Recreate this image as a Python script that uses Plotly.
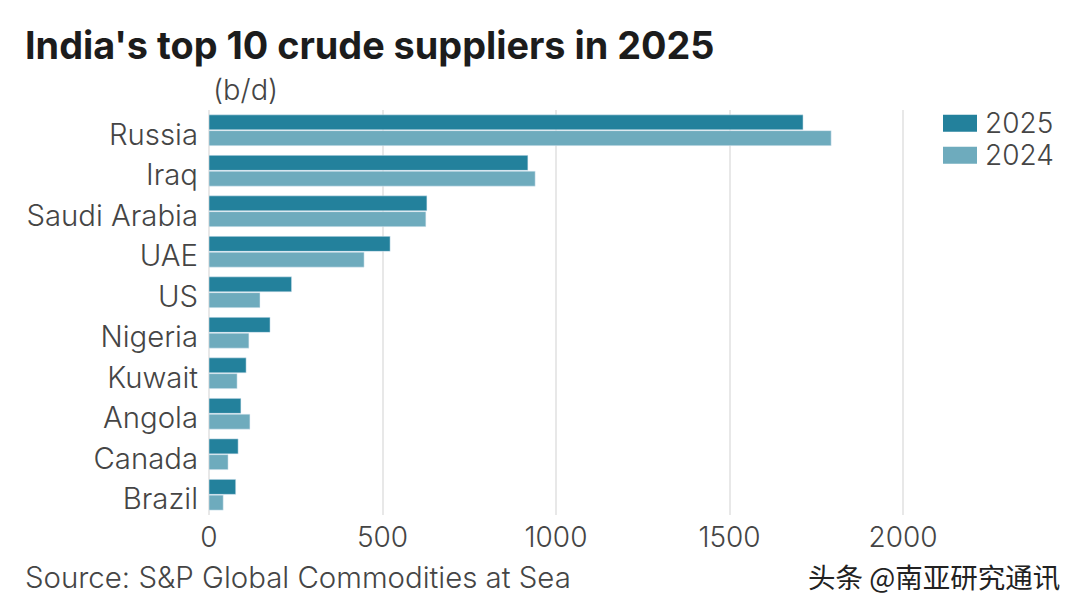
import plotly.graph_objects as go

categories = ["Russia", "Iraq", "Saudi Arabia", "UAE", "US", "Nigeria", "Kuwait", "Angola", "Canada", "Brazil"]
values_2025 = [1712, 919, 628, 522, 238, 176, 107, 92, 84, 77]
values_2024 = [1793, 940, 625, 447, 147, 115, 81, 118, 55, 41]
x_ticks = [0, 500, 1000, 1500, 2000]
series_names = ["2025", "2024"]
series_colors = ["#23819c", "#6eabbd"]

W, H = 1080, 608
L, R, T, B = 209, 940, 110.3, 514.7
TEXT = "#454545"
FONT = "Inter"


def px(x):
    return (x - L) / (R - L)


def py(y):
    return (B - y) / (B - T)


fig = go.Figure()
fig.add_bar(name=series_names[0], y=categories, x=values_2025, orientation="h", marker_color=series_colors[0])
fig.add_bar(name=series_names[1], y=categories, x=values_2024, orientation="h", marker_color=series_colors[1])

annotations = [
    dict(text="India's top 10 crude suppliers in 2025", x=px(23), y=py(45), xanchor="left",
         font=dict(size=37.8, family=FONT, color="#1c1c1c", weight=700)),
    dict(text="(b/d)", x=px(211), y=py(90), xanchor="left",
         font=dict(size=29, family=FONT, color=TEXT, weight=300)),
    dict(text="Source: S&P Global Commodities at Sea", x=px(23), y=py(577), xanchor="left",
         font=dict(size=29.4, family=FONT, color=TEXT, weight=300)),
    dict(text="头条 @南亚研究通讯", x=px(1062), y=py(576), xanchor="right",
         font=dict(size=27.5, family="Noto Sans CJK SC", color="#222222")),
]
shapes = []
for name, color, top in zip(series_names, series_colors, [115, 147]):
    shapes.append(dict(type="rect", xref="paper", yref="paper", x0=px(943), x1=px(977), y0=py(top), y1=py(top + 17),
                       fillcolor=color, line_width=0))
    annotations.append(dict(text=name, x=px(983), y=py(top + 8), xanchor="left",
                            font=dict(size=28, family=FONT, color=TEXT, weight=300)))
for a in annotations:
    a.update(xref="paper", yref="paper", showarrow=False, yanchor="middle")

fig.update_layout(
    width=W, height=H, barmode="group", bargap=0.22, bargroupgap=0.05, showlegend=False,
    margin=dict(l=L, r=W - R, t=T, b=H - B, pad=0, autoexpand=False),
    paper_bgcolor="white", plot_bgcolor="white",
    font=dict(family=FONT, color=TEXT, size=28),
    xaxis=dict(range=[0, (R - L) / 0.347], tickvals=x_ticks, ticktext=[str(v) for v in x_ticks],
               showgrid=True, gridcolor="#e8e8e8", gridwidth=1.5, zeroline=True, zerolinecolor="#e8e8e8",
               zerolinewidth=1.5, showline=False, ticks="", ticklabelstandoff=3,
               tickfont=dict(size=28, family=FONT, color=TEXT, weight=300)),
    yaxis=dict(autorange=False, range=[9.5, -0.5], showgrid=False, zeroline=False, showline=False,
               ticks="", ticklabelstandoff=10, ticklabelshift=-4,
               tickfont=dict(size=29.3, family=FONT, color=TEXT, weight=300)),
    annotations=annotations, shapes=shapes,
)

fig.write_html("out.html", post_script="document.body.style.margin='0';", config={"displayModeBar": False})
